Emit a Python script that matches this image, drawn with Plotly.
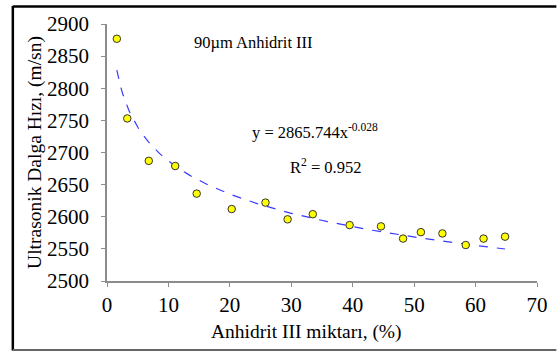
import numpy as np
import plotly.graph_objects as go

# Measured ultrasonic pulse velocity vs. anhydrite III content
anhidrit_pct = [1.6, 3.3, 6.8, 11.1, 14.6, 20.3, 25.8, 29.4, 33.5, 39.5,
                44.6, 48.2, 51.1, 54.6, 58.4, 61.3, 64.8]
hiz_m_sn = [2877, 2753, 2687, 2679, 2636, 2612, 2622, 2596, 2604, 2587,
            2585, 2566, 2576, 2574, 2556, 2566, 2569]

# Power-law fit y = a * x^b
fit_a = 2865.744
fit_b = -0.028
fit_r2 = 0.952

x_ticks = [0, 10, 20, 30, 40, 50, 60, 70]
y_ticks = [2500, 2550, 2600, 2650, 2700, 2750, 2800, 2850, 2900]

fit_x = np.linspace(min(anhidrit_pct), max(anhidrit_pct), 200)
fit_y = fit_a * fit_x ** fit_b

serif = "Liberation Serif"
axis_gray = "#8c8c8c"

fig = go.Figure()
fig.add_trace(go.Scatter(
    x=fit_x, y=fit_y, mode="lines",
    line=dict(color="#3a3aff", width=1.2, dash="dash"),
    hoverinfo="skip", showlegend=False,
))
fig.add_trace(go.Scatter(
    x=anhidrit_pct, y=hiz_m_sn, mode="markers",
    marker=dict(color="#ffff00", size=7.5, line=dict(color="#333333", width=1)),
    showlegend=False,
))

fig.update_layout(
    width=560, height=353,
    margin=dict(l=107, r=19, t=19, b=72),
    paper_bgcolor="white", plot_bgcolor="white",
    font=dict(family=serif, color="black"),
    xaxis=dict(
        range=[0, 70], tickvals=x_ticks, showgrid=False, zeroline=False,
        showline=True, linecolor=axis_gray, linewidth=1.5,
        ticks="outside", ticklen=4, tickcolor=axis_gray, tickwidth=1,
        tickfont=dict(size=21, family=serif),
    ),
    yaxis=dict(
        range=[2500, 2900], tickvals=y_ticks, showgrid=False, zeroline=False,
        showline=True, linecolor=axis_gray, linewidth=1.5,
        ticks="outside", ticklen=4, tickcolor=axis_gray, tickwidth=1,
        tickfont=dict(size=21, family=serif), ticklabelstandoff=8,
        title=dict(text="Ultrasonik Dalga Hızı, (m/sn)", font=dict(size=19.5, family=serif), standoff=0),
    ),
    annotations=[
        # x-axis title, placed slightly left of the plot centre
        dict(text="Anhidrit III miktarı, (%)", x=0.463, y=-0.198, xref="paper", yref="paper",
             showarrow=False, xanchor="center", yanchor="middle",
             font=dict(size=19.5, family=serif)),
        dict(text="90µm Anhidrit III", x=0.198, y=0.927, xref="paper", yref="paper",
             showarrow=False, xanchor="left", yanchor="middle",
             font=dict(size=16.5, family=serif)),
        dict(text=f"y = {fit_a:.3f}x<sup>{fit_b:.3f}</sup>", x=0.332, y=0.58,
             xref="paper", yref="paper", showarrow=False, xanchor="left", yanchor="middle",
             font=dict(size=16.5, family=serif)),
        dict(text=f"R<sup>2</sup> = {fit_r2:.3f}", x=0.422, y=0.447,
             xref="paper", yref="paper", showarrow=False, xanchor="left", yanchor="middle",
             font=dict(size=16.5, family=serif)),
    ],
    shapes=[
        dict(type="line", xref="paper", yref="paper", x0=-0.219, x1=-0.219, y0=-0.27, y1=1.07,
             line=dict(color="black", width=2.5)),
        dict(type="line", xref="paper", yref="paper", x0=-0.219, x1=1.045, y0=1.068, y1=1.068,
             line=dict(color="black", width=2.5)),
        dict(type="line", xref="paper", yref="paper", x0=-0.219, x1=1.045, y0=-0.268, y1=-0.268,
             line=dict(color="#666666", width=2)),
    ],
)

fig.write_html("out.html")
